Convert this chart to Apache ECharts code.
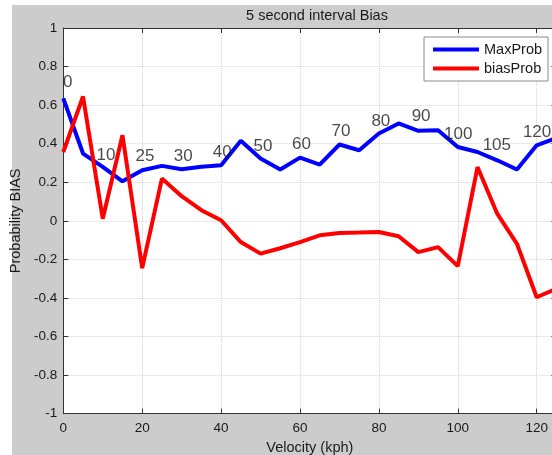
<!DOCTYPE html>
<html>
<head>
<meta charset="utf-8">
<script src="https://cdn.jsdelivr.net/npm/echarts@6/dist/echarts.min.js"></script>
<style>
html,body{margin:0;padding:0;background:#fff;}
#c{width:552px;height:455px;}
</style>
</head>
<body>
<div id="c"></div>
<script>
// ---- data ----
var velocity = [0,5,10,15,20,25,30,35,40,45,50,55,60,65,70,75,80,85,90,95,100,105,110,115,120,125];
var maxProb  = [0.635,0.349,0.280,0.205,0.262,0.285,0.268,0.280,0.288,0.415,0.323,0.266,0.328,0.292,0.396,0.366,0.453,0.505,0.467,0.470,0.383,0.357,0.314,0.266,0.392,0.430];
var biasProb = [0.357,0.645,0.011,0.444,-0.245,0.219,0.128,0.055,0.003,-0.110,-0.170,-0.142,-0.110,-0.075,-0.063,-0.061,-0.058,-0.080,-0.162,-0.136,-0.235,0.279,0.037,-0.119,-0.396,-0.352];
var annotText = ['0','10','25','30','40','50','60','70','80','90','100','105','120'];
var annotX    = [1.1,10.8,20.7,30.4,40.3,50.6,60.4,70.4,80.5,90.7,100.1,109.9,120.1];
var annotY    = [0.72,0.34,0.335,0.335,0.357,0.387,0.397,0.465,0.518,0.544,0.449,0.392,0.458];
var seriesNames = ['MaxProb','biasProb'];
var titleText = '5 second interval Bias';
var xName = 'Velocity (kph)';
var yName = 'Probability BIAS';

var chart = echarts.init(document.getElementById('c'), null, {renderer:'canvas'});
var FONT = 'Liberation Sans, Arial, Helvetica, sans-serif';
var axisCol = '#333';
var txtCol = '#1a1a1a';
var gridLine = {show:true, lineStyle:{color:'#d4d4d4', type:'dotted', width:1}};

var annotData = annotText.map(function(t,i){ return {name:t, value:[annotX[i], annotY[i]]}; });

chart.setOption({
  animation:false,
  backgroundColor:'#ffffff',
  graphic:[{type:'rect', z:-10, shape:{x:12,y:5,width:540,height:450}, style:{fill:'#cccccc'}}],
  title:{text:titleText, left:312, top:3, textAlign:'center',
    textStyle:{fontFamily:FONT, fontSize:14.5, fontWeight:'normal', color:txtCol}},
  legend:{data:seriesNames, orient:'vertical', left:424, top:37, width:126,
    padding:[5,6,5,9], itemGap:4, itemWidth:46, itemHeight:4, icon:'rect',
    backgroundColor:'#fff', borderColor:'#8a8a8a', borderWidth:1,
    textStyle:{fontFamily:FONT, fontSize:14.5, color:txtCol}},
  grid:{left:63.3, right:-4.4, top:28, bottom:41.3, show:true, backgroundColor:'#fff', borderWidth:0,
    containLabel:false, outerBoundsMode:'none'},
  xAxis:[{type:'value', min:0, max:125, interval:20,
      name:xName, nameLocation:'middle', nameGap:20,
      nameTextStyle:{fontFamily:FONT, fontSize:14.5, color:txtCol},
      axisLine:{show:true, onZero:false, lineStyle:{color:axisCol, width:1}},
      axisTick:{show:true, inside:true, length:5, lineStyle:{color:axisCol}},
      axisLabel:{fontFamily:FONT, fontSize:13.5, color:txtCol, margin:8, showMaxLabel:false},
      splitLine:gridLine},
    {type:'value', position:'top', min:0, max:125, interval:20,
      axisLine:{show:true, onZero:false, lineStyle:{color:axisCol, width:1}},
      axisTick:{show:true, inside:true, length:5, lineStyle:{color:axisCol}},
      axisLabel:{show:false}, splitLine:{show:false}}],
  yAxis:[{type:'value', min:-1, max:1, interval:0.2,
      name:yName, nameLocation:'middle', nameGap:33, nameRotate:90,
      nameTextStyle:{fontFamily:FONT, fontSize:14.5, color:txtCol},
      axisLine:{show:true, onZero:false, lineStyle:{color:axisCol, width:1}},
      axisTick:{show:true, inside:true, length:5, lineStyle:{color:axisCol}},
      axisLabel:{fontFamily:FONT, fontSize:13.5, color:txtCol, margin:6},
      splitLine:gridLine},
    {type:'value', position:'right', min:-1, max:1, interval:0.2,
      axisLine:{show:true, onZero:false, lineStyle:{color:axisCol, width:1}},
      axisTick:{show:true, inside:true, length:5, lineStyle:{color:axisCol}},
      axisLabel:{show:false}, splitLine:{show:false}}],
  series:[
    {name:seriesNames[0], type:'line', showSymbol:false, symbol:'none',
      data:velocity.map(function(v,i){return [v, maxProb[i]];}),
      lineStyle:{color:'#0000ff', width:4}, itemStyle:{color:'#0000ff'}, z:3},
    {name:seriesNames[1], type:'line', showSymbol:false, symbol:'none',
      data:velocity.map(function(v,i){return [v, biasProb[i]];}),
      lineStyle:{color:'#ff0000', width:4}, itemStyle:{color:'#ff0000'}, z:3},
    {name:'annot', type:'scatter', symbolSize:0, data:annotData, z:5, silent:true,
      label:{show:true, position:'inside', formatter:'{b}',
        fontFamily:FONT, fontSize:17, color:txtCol}}
  ]
});
</script>
</body>
</html>
